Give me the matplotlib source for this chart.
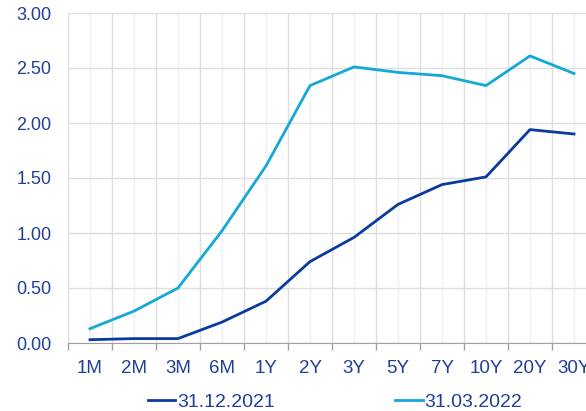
import numpy as np
import matplotlib.pyplot as plt

plt.rcParams['font.family'] = ['Liberation Sans', 'DejaVu Sans']

tenors = ["1M", "2M", "3M", "6M", "1Y", "2Y", "3Y", "5Y", "7Y", "10Y", "20Y", "30Y"]
curve_2021 = [0.03, 0.04, 0.04, 0.19, 0.38, 0.74, 0.96, 1.26, 1.44, 1.51, 1.94, 1.90]
curve_2022 = [0.13, 0.29, 0.50, 1.02, 1.61, 2.34, 2.51, 2.46, 2.43, 2.34, 2.61, 2.45]
label_2021 = "31.12.2021"
label_2022 = "31.03.2022"

text_color = "#1f3f99"
dark_blue = "#0a3a9e"
light_blue = "#14a8d6"

fig = plt.figure(figsize=(5.86, 4.11), dpi=100)
# plot area runs a bit past the right edge, as in the original
ax = fig.add_axes([68/586, 1 - 343/411, 528/586, 330/411])

x = np.arange(len(tenors))
ax.plot(x, curve_2021, color=dark_blue, lw=2.0, label=label_2021, zorder=3)
ax.plot(x, curve_2022, color=light_blue, lw=2.0, label=label_2022, zorder=3)

ax.set_xlim(-0.5, len(tenors) - 0.5)
ax.set_ylim(0, 3.0)

ax.set_yticks(np.arange(0, 3.01, 0.5))
ax.set_yticklabels([f"{v:.2f}" for v in np.arange(0, 3.01, 0.5)])
ax.set_xticks(np.arange(-0.5, len(tenors)), minor=False)
ax.set_xticklabels([])
ax.set_xticks(x, minor=True)
ax.set_xticklabels(tenors, minor=True)

ax.tick_params(axis="y", length=0, pad=12, labelsize=13, labelcolor=text_color)
ax.tick_params(axis="x", which="major", length=5, width=1, color="#a0a0a0")
ax.tick_params(axis="x", which="minor", length=0, pad=12, labelsize=13.5, labelcolor=text_color)

ax.grid(axis="y", color="#dedede", lw=1)
ax.grid(axis="x", which="major", color="#dedede", lw=1)
ax.grid(axis="x", which="minor", color="#eaf0fb", lw=1)
ax.set_axisbelow(True)

for s in ["top", "right", "left"]:
    ax.spines[s].set_visible(False)
ax.spines["bottom"].set_color("#a0a0a0")

fig.legend(loc="center left", bbox_to_anchor=(148/586, 1 - 402/411), ncol=2, frameon=False,
           fontsize=14, labelcolor=text_color, handlelength=1.4, handletextpad=0.1,
           columnspacing=6.2, borderpad=0, borderaxespad=0)

fig.savefig("out.png", dpi=100)
